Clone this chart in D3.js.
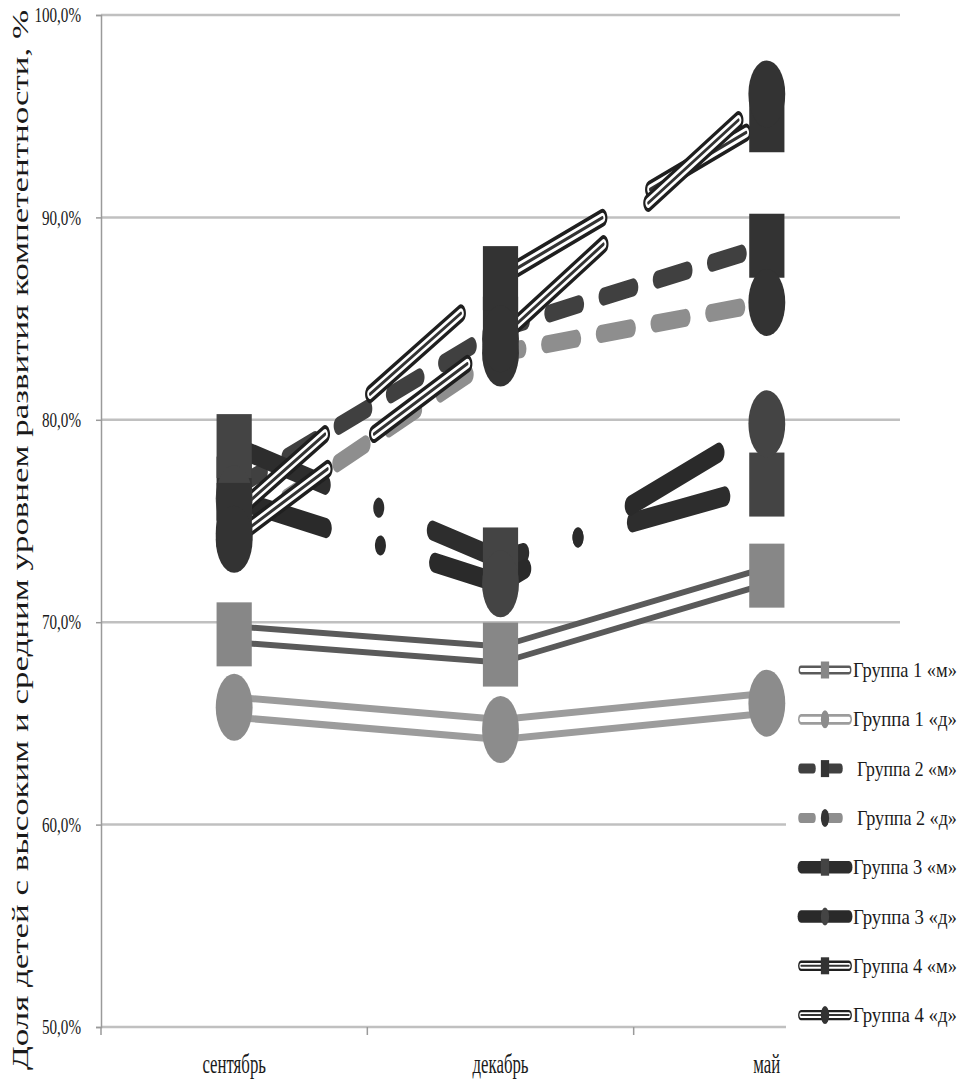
<!DOCTYPE html>
<html>
<head>
<meta charset="utf-8">
<script src="https://cdn.jsdelivr.net/npm/d3@7"></script>
<style>
  body { margin: 0; background: #fff; }
  text { font-family: "Liberation Serif", "Times New Roman", "DejaVu Serif", serif; fill: #1a1a1a; }
</style>
</head>
<body>
<svg id="chart" width="965" height="1081"></svg>
<script>
// ---- data ----
const months = ["сентябрь", "декабрь", "май"];
const seriesNames = ["Группа 1 «м»", "Группа 1 «д»", "Группа 2 «м»", "Группа 2 «д»",
                     "Группа 3 «м»", "Группа 3 «д»", "Группа 4 «м»", "Группа 4 «д»"];
const group1m = [69.4, 68.4, 72.3];
const group1d = [65.8, 64.7, 66.0];
const group2m = [76.6, 84.5, 88.6];
const group2d = [74.4, 83.3, 85.8];
const group3m = [78.7, 73.1, 76.8];
const group3d = [76.1, 71.9, 79.8];
const group4m = [75.3, 87.0, 94.8];
const group4d = [74.1, 84.0, 96.1];
const yTicks = [50, 60, 70, 80, 90, 100];
const yTitle = "Доля детей с высоким и средним уровнем развития компетентности, %";

const seriesValues = [group1m, group1d, group2m, group2d, group3m, group3d, group4m, group4d];

// ---- styles (strokes: list of [colour, width] drawn bottom to top) ----
const styles = [
  { strokes: [["#5a5a5a", 22], ["#ffffff", 10]], dash: null, marker: "square", mfill: "#878787", kind: "double" },
  { strokes: [["#9c9c9c", 27], ["#ffffff", 13]], dash: null, marker: "circle", mfill: "#8c8c8c", kind: "double" },
  { strokes: [["#404040", 18]], dash: "55,45", marker: "square", mfill: "#333333", kind: "dash" },
  { strokes: [["#8e8e8e", 18]], dash: "55,45", marker: "circle", mfill: "#333333", kind: "dash" },
  { strokes: [["#2d2d2d", 20]], dash: "170,100,0.01,100", marker: "square", mfill: "#444444", kind: "solid" },
  { strokes: [["#2a2a2a", 20]], dash: "170,100,0.01,100", marker: "circle", mfill: "#444444", kind: "solid" },
  { strokes: [["#1f1f1f", 18], ["#ffffff", 10], ["#333333", 3.5]], dash: "184,91", marker: "square", mfill: "#333333", kind: "triple" },
  { strokes: [["#1f1f1f", 18], ["#ffffff", 10], ["#333333", 3.5]], dash: "184,91", marker: "circle", mfill: "#333333", kind: "triple" }
];

// ---- layout ----
const SX = 0.55;                     // horizontal squeeze of the drawing
const plot = { left: 101, right: 900, top: 15, bottom: 1027 };
const GRID = "#c0c0c0";

const svg = d3.select("#chart");

const y = d3.scaleLinear().domain([50, 100]).range([plot.bottom, plot.top]);
const xReal = d3.scaleBand().domain(months).range([plot.left, plot.right]);
const xv = d3.scaleBand().domain(months).range([plot.left / SX, plot.right / SX]);
const cx = m => xv(m) + xv.bandwidth() / 2;

function squeeze(sel, k) {
  sel.each(function () {
    const L = this.getComputedTextLength();
    this.setAttribute("textLength", L * k);
    this.setAttribute("lengthAdjust", "spacingAndGlyphs");
  });
}
function fitTo(sel, w) {
  sel.each(function () {
    this.setAttribute("textLength", w);
    this.setAttribute("lengthAdjust", "spacingAndGlyphs");
  });
}

// gridlines
svg.append("g").selectAll("line").data(yTicks).join("line")
  .attr("x1", plot.left).attr("x2", plot.right)
  .attr("y1", d => y(d)).attr("y2", d => y(d))
  .attr("stroke", GRID).attr("stroke-width", 2.5);

// left axis
const yAxis = d3.axisLeft(y).tickValues(yTicks).tickSize(5).tickPadding(15)
  .tickFormat(d => d.toFixed(1).replace(".", ",") + "%");
const gy = svg.append("g").attr("transform", `translate(${plot.left},0)`).call(yAxis);
gy.attr("font-family", null);
gy.select(".domain").attr("stroke", "#9a9a9a").attr("stroke-width", 1.5);
gy.selectAll(".tick line").attr("stroke", "#9a9a9a").attr("stroke-width", 1.5);
gy.selectAll(".tick text").attr("font-size", 21).attr("fill", "#1a1a1a");
squeeze(gy.selectAll(".tick text"), 0.72);

// bottom axis: category labels and boundary ticks
const xAxis = d3.axisBottom(xReal).tickSize(0).tickPadding(0);
const gx = svg.append("g").attr("transform", `translate(0,${plot.bottom})`).call(xAxis);
gx.attr("font-family", null);
gx.select(".domain").remove();
gx.selectAll(".tick text").attr("dy", null).attr("y", 46).attr("font-size", 28)
  .attr("fill", "#1a1a1a");
squeeze(gx.selectAll(".tick text"), 0.6);
const bounds = months.map(m => xReal(m)).concat([plot.right]);
svg.append("g").selectAll("line").data(bounds).join("line")
  .attr("x1", d => d).attr("x2", d => d)
  .attr("y1", plot.bottom).attr("y2", plot.bottom + 8)
  .attr("stroke", "#9a9a9a").attr("stroke-width", 1.5);

// y axis title
svg.append("text")
  .attr("transform", `translate(28,540) rotate(-90)`)
  .attr("text-anchor", "middle").attr("font-size", 23)
  .text(yTitle)
  .call(fitTo, 1060);

// ---- series (drawn in squeezed space) ----
const g = svg.append("g").attr("transform", `scale(${SX},1)`);
const line = d3.line().x((d, i) => cx(months[i])).y(d => y(d));

// lines first
seriesValues.forEach((vals, si) => {
  const st = styles[si];
  st.strokes.forEach(([col, w]) => {
    g.append("path")
      .attr("d", line(vals))
      .attr("fill", "none")
      .attr("stroke", col)
      .attr("stroke-width", w)
      .attr("stroke-linecap", "round")
      .attr("stroke-linejoin", "round")
      .attr("stroke-dasharray", st.dash);
  });
});

// then markers
const SQ = 64, CR = 33.5;
seriesValues.forEach((vals, si) => {
  const st = styles[si];
  const mg = g.append("g").attr("fill", st.mfill);
  if (st.marker === "square") {
    mg.selectAll("rect").data(vals).join("rect")
      .attr("x", (d, i) => cx(months[i]) - SQ / 2)
      .attr("y", d => y(d) - SQ / 2)
      .attr("width", SQ).attr("height", SQ);
  } else {
    mg.selectAll("circle").data(vals).join("circle")
      .attr("cx", (d, i) => cx(months[i]))
      .attr("cy", d => y(d))
      .attr("r", CR);
  }
});

// ---- legend ----
const legendTop = 640, legendLeft = 786;
svg.append("rect").attr("x", legendLeft).attr("y", legendTop)
  .attr("width", 965 - legendLeft).attr("height", 1045 - legendTop).attr("fill", "#fff");

const lg = svg.append("g").attr("transform", `scale(${SX},1)`);
const rowY = i => 670 + i * 49.3;
const iconL = 801 / SX, iconR = 849 / SX, iconC = 825 / SX;

seriesNames.forEach((name, si) => {
  const st = styles[si];
  const yy = rowY(si);
  if (st.kind === "dash") {
    [[801, 813], [829, 840]].forEach(([a, b]) => {
      lg.append("line").attr("x1", a / SX).attr("x2", b / SX).attr("y1", yy).attr("y2", yy)
        .attr("stroke", st.strokes[0][0]).attr("stroke-width", 10).attr("stroke-linecap", "round");
    });
  } else {
    const k = st.kind === "solid" ? 0.62 : st.kind === "triple" ? 0.58 : 0.4;
    st.strokes.forEach(([col, w]) => {
      lg.append("line").attr("x1", iconL).attr("x2", iconR).attr("y1", yy).attr("y2", yy)
        .attr("stroke", col).attr("stroke-width", w * k)
        .attr("stroke-linecap", "round");
    });
  }
  if (st.marker === "square") {
    lg.append("rect").attr("x", iconC - 7.5).attr("y", yy - 8.5).attr("width", 15).attr("height", 17)
      .attr("fill", st.mfill);
  } else {
    lg.append("ellipse").attr("cx", iconC).attr("cy", yy).attr("rx", 7.5).attr("ry", 9)
      .attr("fill", st.mfill);
  }
  // legend label, squeezed horizontally to fit the strip right of the icon
  const tx = st.kind === "dash" ? 857 : 853;
  const targetW = st.kind === "dash" ? 100 : 104;
  const t = svg.append("text")
    .attr("font-size", 22)
    .text(name);
  const natural = t.node().getComputedTextLength();
  t.attr("transform", `translate(${tx},${yy + 7}) scale(${targetW / natural},1)`);
});
</script>
</body>
</html>
